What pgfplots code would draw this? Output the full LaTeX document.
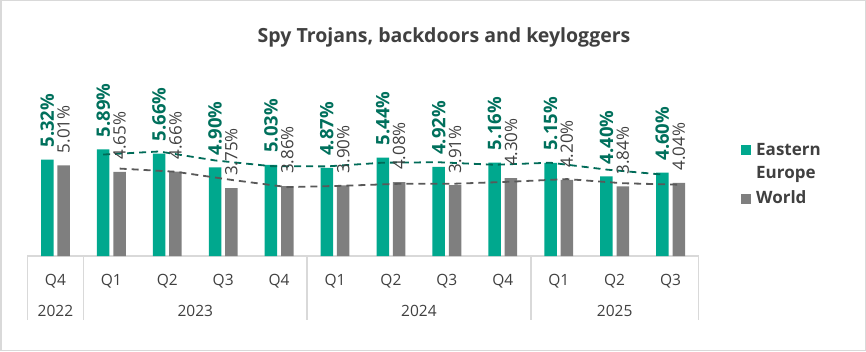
\documentclass[border=0pt]{standalone}
\usepackage{pgfplots}
\pgfplotsset{compat=1.18}
\usepackage{pgfplotstable}
\usepackage{fontspec}
\setmainfont{Open Sans}
\definecolor{eegreen}{HTML}{00A88E}
\definecolor{wgray}{HTML}{7F7F7F}
\definecolor{labgreen}{HTML}{00705C}
\definecolor{txt}{HTML}{404040}
\definecolor{frame}{HTML}{D9D9D9}
\definecolor{trgreen}{HTML}{006B58}
\definecolor{trgray}{HTML}{595959}

\pgfplotstableread{
x ee w
0 5.32 5.01
1 5.89 4.65
2 5.66 4.66
3 4.90 3.75
4 5.03 3.86
5 4.87 3.90
6 5.44 4.08
7 4.92 3.91
8 5.16 4.30
9 5.15 4.20
10 4.40 3.84
11 4.60 4.04
}\bars

% two-period moving average trendlines
\pgfplotstableread{
x ee w
1 5.605 4.83
2 5.775 4.655
3 5.28 4.205
4 4.965 3.805
5 4.95 3.88
6 5.155 3.99
7 5.18 3.995
8 5.04 4.105
9 5.155 4.25
10 4.775 4.02
11 4.50 3.94
}\trend

\begin{document}
\begin{tikzpicture}[x=1pt,y=1pt]
\path[use as bounding box] (0,0) rectangle (866,351);
\draw[frame, line width=1.5pt] (0.75,0.75) rectangle (865.25,350.25);
\node[anchor=base, inner sep=0pt, font=\fontsize{19.5}{22}\selectfont\bfseries, text=txt] at (444,308.3) {Spy Trojans, backdoors and keyloggers};
\begin{axis}[
  at={(27.5pt,95pt)}, anchor=south west,
  scale only axis, width=671pt, height=181pt,
  xmin=-0.5, xmax=11.5, ymin=0, ymax=10,
  axis x line*=bottom, axis y line=none,
  x axis line style={draw=frame, line width=1.5pt, -},
  major tick length=0pt,
  xtick={0,...,11},
  xticklabels={Q4,Q1,Q2,Q3,Q4,Q1,Q2,Q3,Q4,Q1,Q2,Q3},
  xticklabel style={anchor=base, yshift=-29pt, font=\fontsize{15.5}{18}\selectfont, text=txt},
  ytick=\empty,
  clip=false,
  /pgf/number format/assume math mode=true,
]
\addplot[ybar, bar width=12.5pt, bar shift=-8.2pt, fill=eegreen, draw=none]
  table[x=x, y=ee] {\bars};
\addplot[ybar, bar width=12.5pt, bar shift=8.2pt, fill=wgray, draw=none]
  table[x=x, y=w] {\bars};
% data labels (invisible carriers at the bar centres)
\addplot[draw=none, mark=none,
  nodes near coords={\pgfmathprintnumber[fixed,fixed zerofill,precision=2]{\pgfplotspointmeta}\%},
  nodes near coords style={rotate=90, anchor=west, inner xsep=12pt, inner ysep=0pt, font=\fontsize{18.5}{20}\selectfont\bfseries, text=labgreen}]
  table[x expr=\thisrow{x}-0.1466, y=ee] {\bars};
\addplot[draw=none, mark=none,
  nodes near coords={\pgfmathprintnumber[fixed,fixed zerofill,precision=2]{\pgfplotspointmeta}\%},
  nodes near coords style={rotate=90, anchor=west, inner xsep=12pt, inner ysep=0pt, font=\fontsize{17}{19}\selectfont, text=txt}]
  table[x expr=\thisrow{x}+0.1466, y=w] {\bars};
\addplot[trgreen, line width=1.8pt, dash pattern=on 7pt off 5pt, no markers]
  table[x expr=\thisrow{x}-0.1466, y=ee] {\trend};
\addplot[trgray, line width=1.8pt, dash pattern=on 7pt off 5pt, no markers]
  table[x expr=\thisrow{x}+0.1466, y=w] {\trend};
% category group separators and year labels
\pgfplotsinvokeforeach{-0.5,0.5,4.5,8.5,11.5}{
  \draw[frame, line width=1.5pt] (axis cs:#1,0) -- ++(0pt,-64pt);
}
\node[anchor=base, font=\fontsize{15.5}{18}\selectfont, text=txt] at ([yshift=-60pt]axis cs:0,0) {2022};
\node[anchor=base, font=\fontsize{15.5}{18}\selectfont, text=txt] at ([yshift=-60pt]axis cs:2.5,0) {2023};
\node[anchor=base, font=\fontsize{15.5}{18}\selectfont, text=txt] at ([yshift=-60pt]axis cs:6.5,0) {2024};
\node[anchor=base, font=\fontsize{15.5}{18}\selectfont, text=txt] at ([yshift=-60pt]axis cs:10,0) {2025};
\end{axis}
% legend
\fill[eegreen] (741,196) rectangle (751,206);
\node[anchor=base west, inner sep=0pt, font=\fontsize{17}{19}\selectfont\bfseries, text=txt] at (756,195) {Eastern};
\node[anchor=base west, inner sep=0pt, font=\fontsize{17}{19}\selectfont\bfseries, text=txt] at (756,172.7) {Europe};
\fill[wgray] (741,147) rectangle (751,157);
\node[anchor=base west, inner sep=0pt, font=\fontsize{17}{19}\selectfont\bfseries, text=txt] at (756,147.7) {World};
\end{tikzpicture}
\end{document}
